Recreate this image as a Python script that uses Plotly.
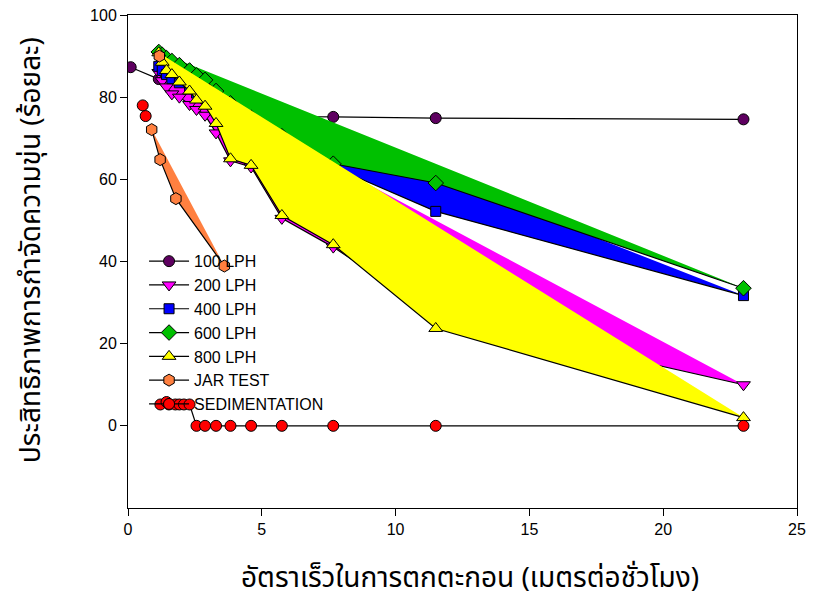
import plotly.graph_objects as go

# ---------------- data ----------------
lph100_x = [0.1, 1.15, 1.92, 2.88, 3.83, 5.75, 7.67, 11.5, 23]
lph100_y = [87.3, 84.4, 83.5, 81.0, 78.0, 75.3, 75.2, 74.9, 74.6]

grid_x = [1.15, 1.28, 1.44, 1.64, 1.92, 2.3, 2.56, 2.88, 3.29, 3.83, 4.6, 5.75, 7.67, 11.5, 23]
lph200_y = [86.0, 84.0, 82.5, 80.8, 80.0, 78.2, 77.0, 75.6, 71.3, 64.5, 63.0, 50.5, 43.5, 27.0, 10.0]
lph400_y = [87.5, 86.5, 85.5, 84.5, 83.5, 82.0, 81.0, 80.0, 78.5, 76.5, 73.0, 69.0, 63.0, 52.2, 31.7]
lph600_y = [91.0, 90.3, 89.5, 88.8, 87.8, 86.5, 85.3, 84.2, 81.5, 78.5, 75.0, 70.5, 63.8, 59.1, 33.5]
lph800_y = [90.8, 88.5, 86.5, 85.5, 83.7, 81.5, 79.3, 77.8, 73.6, 65.0, 63.4, 51.2, 44.1, 23.7, 2.0]

jar_x = [0.885, 1.2, 1.79, 3.6]
jar_y = [72.1, 64.8, 55.3, 38.9]
jar_extra_x = [1.17]
jar_extra_y = [90.0]

sed_x = [1.21, 1.44, 1.53, 1.77, 1.92, 2.09, 2.3, 2.56, 2.88, 3.29, 3.83, 4.6, 5.75, 7.67, 11.5, 23]
sed_y = [5.2, 5.8, 5.2, 5.2, 5.2, 5.2, 5.2, 0, 0, 0, 0, 0, 0, 0, 0, 0]
sed_extra_x = [0.55, 0.66]
sed_extra_y = [78.0, 75.4]

x_ticks = [0, 5, 10, 15, 20, 25]
y_ticks = [0, 20, 40, 60, 80, 100]

x_title = "อัตราเร็วในการตกตะกอน (เมตรต่อชั่วโมง)"
y_title = "ประสิทธิภาพการกำจัดความขุ่น (ร้อยละ)"

# ---------------- figure ----------------
fig = go.Figure()
OUT = dict(color="black", width=1)


def fill_trace(x, y, color):
    fig.add_trace(go.Scatter(x=x, y=y, mode="lines", line=dict(width=0),
                             fill="toself", fillcolor=color, showlegend=False,
                             hoverinfo="skip"))


def line_trace(x, y, name, symbol, color, size=10, legend=True):
    fig.add_trace(go.Scatter(x=x, y=y, mode="lines+markers", name=name,
                             line=dict(color="black", width=1.2),
                             marker=dict(symbol=symbol, color=color, size=size, line=OUT),
                             showlegend=legend))


line_trace(lph100_x, lph100_y, "100 LPH", "circle", "#5e0060", 11)
fill_trace(grid_x, lph200_y, "#ff00ff")
line_trace(grid_x, lph200_y, "200 LPH", "triangle-down", "#ff00ff", 12)
fill_trace(grid_x, lph400_y, "#0000ff")
line_trace(grid_x, lph400_y, "400 LPH", "square", "#0000ff", 10)
fill_trace(grid_x, lph600_y, "#00c000")
line_trace(grid_x, lph600_y, "600 LPH", "diamond", "#00c000", 12)
fill_trace(grid_x, lph800_y, "#ffff00")
line_trace(grid_x, lph800_y, "800 LPH", "triangle-up", "#ffff00", 12)
fill_trace(jar_x, jar_y, "#ff8040")
line_trace(jar_x, jar_y, "JAR TEST", "hexagon", "#ff8040", 12)
fig.add_trace(go.Scatter(x=jar_extra_x, y=jar_extra_y, mode="markers", showlegend=False,
                         marker=dict(symbol="hexagon", color="#ff8040", size=12, line=OUT)))
line_trace(sed_x, sed_y, "SEDIMENTATION", "circle", "#ff0000", 11)
fig.add_trace(go.Scatter(x=sed_extra_x, y=sed_extra_y, mode="markers", showlegend=False,
                         marker=dict(symbol="circle", color="#ff0000", size=11, line=OUT)))

tick_font = dict(family="Liberation Sans, Arial, sans-serif", size=16, color="black")
title_font = dict(family="Noto Sans Thai, Noto Sans, DejaVu Sans, sans-serif", size=28, color="black")

fig.update_layout(
    width=814, height=600,
    margin=dict(l=120, r=25, t=7, b=100),
    paper_bgcolor="white", plot_bgcolor="white",
    showlegend=True,
    legend=dict(x=0.024, y=0.535, xanchor="left", yanchor="top",
                bgcolor="rgba(0,0,0,0)", font=dict(family="Liberation Sans, Arial, sans-serif", size=16, color="black"),
                itemwidth=40, tracegroupgap=0),
    xaxis=dict(range=[0, 25], tickvals=x_ticks, ticks="outside", ticklen=7, tickcolor="black",
               showgrid=False, zeroline=False, showline=True, linecolor="black", linewidth=1,
               mirror=True, tickfont=tick_font, ticklabeloverflow="allow", automargin=False),
    yaxis=dict(range=[-20, 100], tickvals=y_ticks, ticks="outside", ticklen=7, tickcolor="black",
               showgrid=False, zeroline=False, showline=True, linecolor="black", linewidth=1,
               mirror=True, tickfont=tick_font, ticklabeloverflow="allow", automargin=False),
    annotations=[
        dict(text=x_title, xref="paper", yref="paper", x=0.511, y=-0.142,
             xanchor="center", yanchor="middle", showarrow=False, font=title_font),
        dict(text=y_title, xref="paper", yref="paper", x=-0.145, y=0.523,
             xanchor="center", yanchor="middle", showarrow=False, textangle=-90, font=title_font),
    ],
)

fig.write_html("out.html")
